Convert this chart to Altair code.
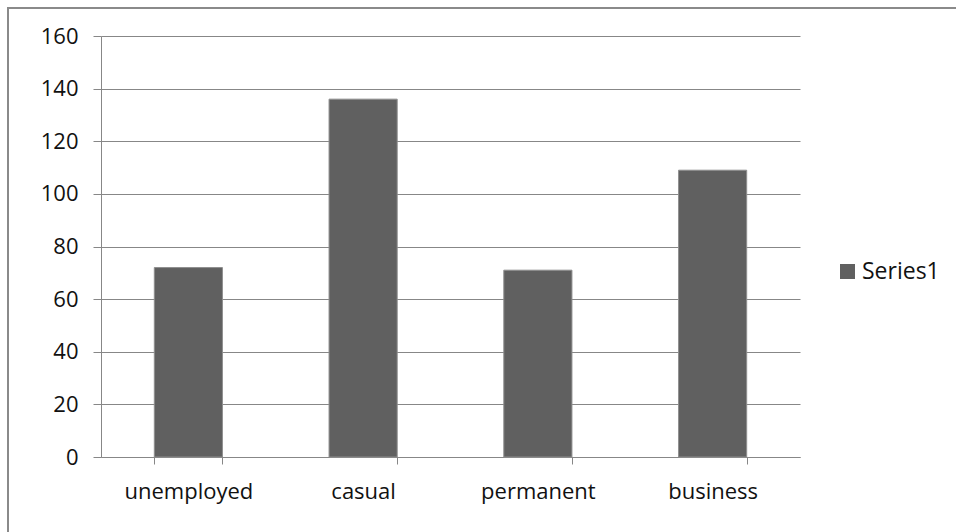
import altair as alt
import pandas as pd

# Bar values per employment category
categories = ["unemployed", "casual", "permanent", "business"]
values = [72, 136, 71, 109]
series_name = "Series1"
y_ticks = [0, 20, 40, 60, 80, 100, 120, 140, 160]

df = pd.DataFrame({"category": categories, "value": values, "series": [series_name] * len(categories)})

FONT = "Open Sans"
GRID = "#878787"
BAR = "#606060"
W, H = 699, 421

bars = alt.Chart(df).mark_bar(stroke="#8f8f8f", strokeWidth=1).encode(
    x=alt.X(
        "category:N",
        sort=categories,
        title=None,
        scale=alt.Scale(paddingInner=0.61, paddingOuter=0.305),
        axis=alt.Axis(
            labelAngle=0, tickBand="extent", tickSize=7, tickColor=GRID,
            domainColor=GRID, labelPadding=17, labelFontSize=22,
            labelColor="#111111", labelFont=FONT, grid=False,
        ),
    ),
    y=alt.Y(
        "value:Q",
        title=None,
        scale=alt.Scale(domain=[0, 160], nice=False),
        axis=alt.Axis(
            values=y_ticks, tickSize=8, tickColor=GRID, domainColor=GRID,
            gridColor=GRID, labelPadding=15, labelFontSize=22,
            labelColor="#111111", labelFont=FONT,
        ),
    ),
    color=alt.Color(
        "series:N",
        scale=alt.Scale(domain=[series_name], range=[BAR]),
        legend=alt.Legend(
            title=None, orient="none", legendX=735, legendY=224,
            symbolType="square", symbolSize=225, symbolStrokeWidth=0,
            labelFontSize=23, labelFont=FONT, labelColor="#111111",
            labelOffset=3,
        ),
    ),
)

# Outer frame edges (top and left) of the chart area
frame_top = alt.Chart(df).mark_rule(color="#8a8a8a", strokeWidth=2, clip=False).encode(
    x=alt.value(-94), x2=alt.value(W + 160), y=alt.value(-28)
)
frame_left = alt.Chart(df).mark_rule(color="#8a8a8a", strokeWidth=2, clip=False).encode(
    x=alt.value(-93), y=alt.value(-29), y2=alt.value(H + 80)
)

chart = alt.layer(bars, frame_top, frame_left).properties(
    width=W,
    height=H,
    autosize=alt.AutoSizeParams(type="none"),
    padding={"left": 101, "top": 36, "right": 156, "bottom": 75},
    background="white",
).configure_view(stroke=None)

chart.save("out.html", embed_options={"renderer": "svg", "actions": False})
